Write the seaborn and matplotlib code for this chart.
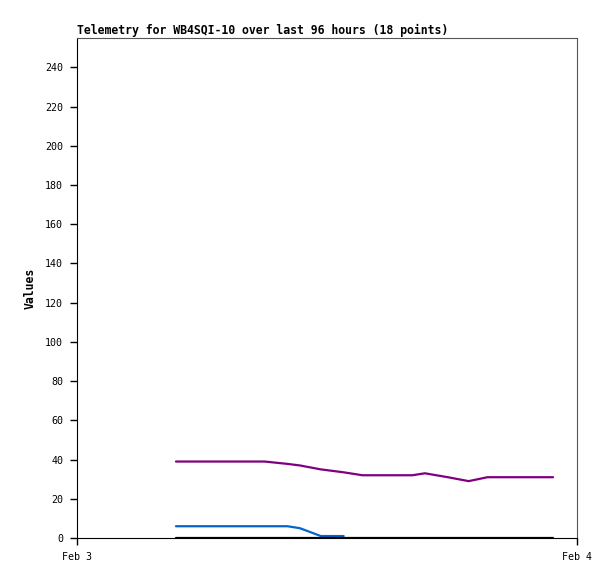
import matplotlib
matplotlib.use("Agg")
import matplotlib.pyplot as plt
import seaborn as sns
import pandas as pd

# hours after Feb 3 00:00 for the 18 telemetry points
hours = [4.75, 6.0, 7.5, 9.0, 10.1, 10.7, 11.7, 12.8, 13.7,
         15.0, 16.1, 16.7, 17.8, 18.8, 19.7, 21.0, 22.0, 22.85]
ch_purple = [39, 39, 39, 39, 37.8, 37, 35, 33.5, 32,
             32, 32, 33, 31, 29, 31, 31, 31, 31]
ch_blue = [6, 6, 6, 6, 6, 5, 1, 1, None,
           None, None, None, None, None, None, None, None, None]
ch_black = [0] * 18

day0 = pd.Timestamp("2024-02-03")
times = [day0 + pd.Timedelta(hours=h) for h in hours]

rows = []
for name, vals in [("A1", ch_purple), ("A2", ch_blue), ("A3", ch_black)]:
    for t, v in zip(times, vals):
        rows.append({"time": t, "value": v, "channel": name})
df = pd.DataFrame(rows)

sns.set_style("white")
plt.rcParams["font.family"] = ["DejaVu Sans Mono"]
plt.rcParams.update({"text.color": "black", "axes.labelcolor": "black",
                     "xtick.color": "black", "ytick.color": "black"})

fig = plt.figure(figsize=(6.15, 5.79), dpi=100)
ax = fig.add_axes([77 / 615, 1 - 538 / 579, 500 / 615, 500 / 579])

sns.lineplot(data=df, x="time", y="value", hue="channel",
             palette={"A1": "#800080", "A2": "#0066cc", "A3": "#000000"},
             linewidth=1.6, legend=False, ax=ax, estimator=None)

ax.set_xlim(day0, day0 + pd.Timedelta(days=1))
ax.set_ylim(0, 255)
ax.set_yticks(range(0, 241, 20))
ax.set_xticks([day0, day0 + pd.Timedelta(days=1)])
ax.set_xticklabels(["Feb 3", "Feb 4"])

ax.tick_params(axis="both", direction="out", length=5, width=1,
               color="black", labelsize=7.2, pad=5, left=True, bottom=True)
for side in ["left", "bottom"]:
    ax.spines[side].set_color("black")
for side in ["top", "right"]:
    ax.spines[side].set_color("#555555")

ax.set_xlabel("")
ax.set_ylabel("Values", fontsize=8.3, fontweight="bold", labelpad=6)
ax.set_title("Telemetry for WB4SQI-10 over last 96 hours (18 points)",
             loc="left", fontsize=8.3, fontweight="bold", pad=3)

fig.savefig("out.png", dpi=100)
